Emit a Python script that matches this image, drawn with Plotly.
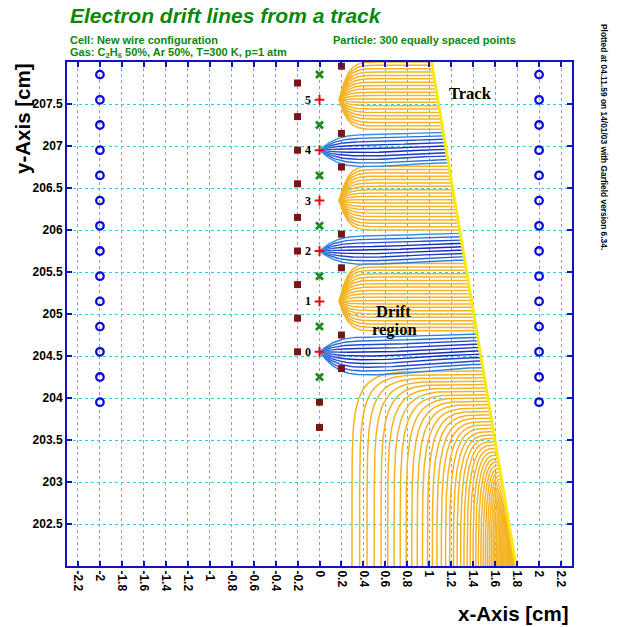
import numpy as np
import plotly.graph_objects as go

# ---------------- cell geometry (cm) ----------------
CATHODE_X = [-2.0, 2.0]
CATHODE_Y = [203.95, 204.25, 204.55, 204.85, 205.15, 205.45, 205.75,
             206.05, 206.35, 206.65, 206.95, 207.25, 207.55, 207.85]

SENSE_X = 0.0
SENSE_Y = [204.55, 205.15, 205.75, 206.35, 206.95, 207.55]
SENSE_LABELS = ["0", "1", "2", "3", "4", "5"]

FIELD_X = 0.0
FIELD_Y = [204.25, 204.85, 205.45, 206.05, 206.65, 207.25, 207.85]

GUARD_L_X = -0.2
GUARD_L_Y = [204.55, 204.95, 205.35, 205.75, 206.15, 206.55, 206.95, 207.35, 207.75]
GUARD_C_X = 0.0
GUARD_C_Y = [203.65, 203.95]
GUARD_R_X = 0.2
GUARD_R_Y = [204.35, 204.75, 205.55, 205.95, 206.75, 207.15, 207.95]

# ---------------- track and drift-line bundles ----------------
TRACK_X = [1.79, 1.02]
TRACK_Y = [202.0, 208.0]
N_VISIBLE_POINTS = 151          # starting points inside the frame (0.04 cm apart)

# track heights separating the bundles: below the first edge the electrons
# leave through the bottom, then sense wires 0,1,2,3,4,5 in turn
BUNDLE_EDGES = [204.34, 204.78, 205.61, 205.97, 206.80, 207.17]
BUNDLE_WIRE = [None, 0, 1, 2, 3, 4, 5]

EXIT_LEFT_X = 0.26              # leftmost exit point at the bottom edge
ORANGE_FOCUS_X = 0.18           # where the odd-wire bundles close up
ORANGE_BEND = 0.45              # length over which they close up
BLUE_SHIFT = [-0.05, 0.0, 0.0]  # bundle offset near the wires 0, 2, 4
BLUE_SPREAD = [1.12, 1.05, 1.05]

X_TICKS = [-2.2, -2.0, -1.8, -1.6, -1.4, -1.2, -1.0, -0.8, -0.6, -0.4, -0.2,
           0.0, 0.2, 0.4, 0.6, 0.8, 1.0, 1.2, 1.4, 1.6, 1.8, 2.0, 2.2]
X_TICK_TEXT = ["-2.2", "-2", "-1.8", "-1.6", "-1.4", "-1.2", "-1", "-0.8", "-0.6",
               "-0.4", "-0.2", "0", "0.2", "0.4", "0.6", "0.8", "1", "1.2", "1.4",
               "1.6", "1.8", "2", "2.2"]
Y_TICKS = [202.5, 203.0, 203.5, 204.0, 204.5, 205.0, 205.5, 206.0, 206.5, 207.0, 207.5]
Y_TICK_TEXT = ["202.5", "203", "203.5", "204", "204.5", "205", "205.5",
               "206", "206.5", "207", "207.5"]

X_RANGE = [-2.3, 2.3]
Y_RANGE = [202.0, 208.0]

ORANGE = "#f5b324"
BLUE_DARK = np.array([20, 32, 190])
BLUE_LIGHT = np.array([62, 172, 236])
N_BLUE = 8
FRAME = "#1212c0"
GREEN_TXT = "#0b870b"


def track_x(y):
    return np.interp(y, TRACK_Y, TRACK_X)


def bottom_line(y0):
    """Electron leaving through the lower edge: left, then down."""
    xs = track_x(y0)
    top = BUNDLE_EDGES[0]
    u = (y0 - Y_RANGE[0]) / (top - Y_RANGE[0])
    reach = (track_x(top) - EXIT_LEFT_X) * u ** 3.2
    n = 2.6 + 5.0 * u ** 4
    phi = np.linspace(0, np.pi / 2, 70)
    x = xs - reach * np.sin(phi) ** (2 / n)
    y = Y_RANGE[0] + (y0 - Y_RANGE[0]) * np.cos(phi) ** (2 / n)
    return x, y


def odd_line(y0, yw):
    xs = track_x(y0)
    xc = ORANGE_FOCUS_X + ORANGE_BEND * np.linspace(0, 1, 60) ** 1.5
    t = (xc - ORANGE_FOCUS_X) / ORANGE_BEND
    yc = yw + (y0 - yw) * (1 - (1 - t) ** 6)
    return np.append(xc, xs), np.append(yc, y0)


def even_line(y0, yw, ycen, spread, shift):
    xs = track_x(y0)
    xk = 0.45
    ym = yw + shift + (y0 - ycen) * spread
    x1 = np.linspace(SENSE_X, xk, 36)
    t = (x1 - SENSE_X) / (xk - SENSE_X)
    y1 = yw + (ym - yw) * (1 - (1 - t) ** 3)
    x2 = np.linspace(xk, xs, 25)[1:]
    s = (x2 - xk) / (xs - xk)
    s = 3 * s ** 2 - 2 * s ** 3
    y2 = ym + (y0 - ym) * s
    return np.concatenate([x1, x2]), np.concatenate([y1, y2])


orange_x, orange_y = [], []
blue_store = [([], []) for _ in range(N_BLUE)]

starts = np.linspace(TRACK_Y[0], TRACK_Y[1], N_VISIBLE_POINTS)
edges_full = [Y_RANGE[0]] + BUNDLE_EDGES + [Y_RANGE[1] + 1.0]

for y0 in starts:
    k = int(np.searchsorted(BUNDLE_EDGES, y0, side="right"))
    wire = BUNDLE_WIRE[k]
    if wire is None:
        if y0 - Y_RANGE[0] < 1e-6:
            continue
        x, y = bottom_line(y0)
        orange_x.extend(list(x) + [None])
        orange_y.extend(list(y) + [None])
    elif wire % 2 == 1:
        x, y = odd_line(y0, SENSE_Y[wire])
        orange_x.extend(list(x) + [None])
        orange_y.extend(list(y) + [None])
    else:
        lo, hi = edges_full[k], edges_full[k + 1]
        ycen = 0.5 * (lo + hi)
        half = 0.5 * (hi - lo)
        j = wire // 2
        x, y = even_line(y0, SENSE_Y[wire], ycen, BLUE_SPREAD[j], BLUE_SHIFT[j])
        u = abs(y0 - ycen) / half
        xm = 0.5 * (x[1:] + x[:-1])
        w = np.maximum(0.85 * u ** 1.5, np.exp(-(xm - SENSE_X) / 0.12))
        w = np.clip(w, 0, 0.999)
        idx = (w * N_BLUE).astype(int)
        a = 0
        for i in range(1, len(idx) + 1):
            if i == len(idx) or idx[i] != idx[a]:
                bx, by = blue_store[idx[a]]
                bx.extend(list(x[a:i + 1]) + [None])
                by.extend(list(y[a:i + 1]) + [None])
                a = i

fig = go.Figure()

fig.add_trace(go.Scatter(x=orange_x, y=orange_y, mode="lines",
                         line=dict(color=ORANGE, width=1.5), hoverinfo="skip"))
for k, (bx, by) in enumerate(blue_store):
    if not bx:
        continue
    f = (k + 0.5) / N_BLUE
    c = (1 - f) * BLUE_DARK + f * BLUE_LIGHT
    col = "rgb(%d,%d,%d)" % tuple(c.astype(int))
    fig.add_trace(go.Scatter(x=bx, y=by, mode="lines",
                             line=dict(color=col, width=1.4), hoverinfo="skip"))

# the track
fig.add_trace(go.Scatter(x=TRACK_X, y=TRACK_Y, mode="lines",
                         line=dict(color="#f6ea12", width=3), hoverinfo="skip"))

# wires
for cx in CATHODE_X:
    fig.add_trace(go.Scatter(x=[cx] * len(CATHODE_Y), y=CATHODE_Y, mode="markers",
                             marker=dict(symbol="circle-open", size=7.5,
                                         color="#0a0ad8", line=dict(width=2.3))))
for gx, gy in [(GUARD_L_X, GUARD_L_Y), (GUARD_C_X, GUARD_C_Y), (GUARD_R_X, GUARD_R_Y)]:
    fig.add_trace(go.Scatter(x=[gx] * len(gy), y=gy, mode="markers",
                             marker=dict(symbol="square", size=7, color="#761616",
                                         line=dict(width=0))))
fig.add_trace(go.Scatter(x=[FIELD_X] * len(FIELD_Y), y=FIELD_Y, mode="markers",
                         marker=dict(symbol="x-thin", size=7,
                                     line=dict(width=2.8, color="#1e8a1e"))))
fig.add_trace(go.Scatter(x=[SENSE_X] * len(SENSE_Y), y=SENSE_Y, mode="markers",
                         marker=dict(symbol="cross-thin", size=7,
                                     line=dict(width=2, color="#e01010"))))

serif = "Liberation Serif, Times New Roman, serif"
sans = "Liberation Sans, Arial, sans-serif"
ann = []
for yw, lab in zip(SENSE_Y, SENSE_LABELS):
    ann.append(dict(x=-0.055, y=yw, xref="x", yref="y", text=lab, showarrow=False,
                    xanchor="right", yanchor="middle",
                    font=dict(family=serif, size=12, color="black", weight="bold")))
ann.append(dict(x=1.375, y=207.63, xref="x", yref="y", text="Track", showarrow=False,
                font=dict(family=serif, size=16.5, color="black", weight="bold")))
ann.append(dict(x=0.67, y=205.03, xref="x", yref="y", text="Drift", showarrow=False,
                font=dict(family=serif, size=16.5, color="black", weight="bold")))
ann.append(dict(x=0.685, y=204.81, xref="x", yref="y", text="region", showarrow=False,
                font=dict(family=serif, size=16.5, color="black", weight="bold")))


def px(xp):
    return (xp - 67) / 505


def py(yp):
    return (566 - yp) / 504


ann += [
    dict(x=px(68), y=py(15), xref="paper", yref="paper", showarrow=False,
         xanchor="left", yanchor="middle", text="<i>Electron drift lines from a track</i>",
         font=dict(family=sans, size=21, color=GREEN_TXT, weight="bold")),
    dict(x=px(68), y=py(40), xref="paper", yref="paper", showarrow=False,
         xanchor="left", yanchor="middle", text="Cell: New wire configuration",
         font=dict(family=sans, size=11, color=GREEN_TXT, weight="bold")),
    dict(x=px(68), y=py(53), xref="paper", yref="paper", showarrow=False,
         xanchor="left", yanchor="middle",
         text="Gas: C<sub>2</sub>H<sub>6</sub> 50%, Ar 50%, T=300 K, p=1 atm",
         font=dict(family=sans, size=11, color=GREEN_TXT, weight="bold")),
    dict(x=px(331), y=py(40), xref="paper", yref="paper", showarrow=False,
         xanchor="left", yanchor="middle", text="Particle: 300 equally spaced points",
         font=dict(family=sans, size=11, color=GREEN_TXT, weight="bold")),
    dict(x=px(604), y=py(137), xref="paper", yref="paper", showarrow=False,
         xanchor="center", yanchor="middle", textangle=90,
         text="Plotted at 04.11.59 on 14/01/03 with Garfield version 6.34.",
         font=dict(family=sans, size=8.4, color="black", weight="bold")),
    dict(x=px(571), y=py(613), xref="paper", yref="paper", showarrow=False,
         xanchor="right", yanchor="middle", text="x-Axis [cm]",
         font=dict(family=sans, size=20.5, color="black", weight="bold")),
    dict(x=px(22), y=py(119), xref="paper", yref="paper", showarrow=False,
         xanchor="center", yanchor="middle", textangle=-90, text="y-Axis [cm]",
         font=dict(family=sans, size=20.5, color="black", weight="bold")),
]

axis_common = dict(showline=True, linecolor=FRAME, linewidth=2, mirror="ticks",
                   ticks="inside", ticklen=5, tickwidth=2, tickcolor=FRAME,
                   showgrid=True, gridcolor="#3cc6da", gridwidth=1, griddash="dot",
                   zeroline=False,
                   tickfont=dict(family=sans, size=12, color="black", weight="bold"))

fig.update_layout(
    width=618, height=627,
    margin=dict(l=67, r=46, t=62, b=61),
    paper_bgcolor="white", plot_bgcolor="white",
    showlegend=False,
    annotations=ann,
    xaxis=dict(range=X_RANGE, tickvals=X_TICKS, ticktext=X_TICK_TEXT,
               tickangle=90, **axis_common),
    yaxis=dict(range=Y_RANGE, tickvals=Y_TICKS, ticktext=Y_TICK_TEXT,
               **axis_common),
)

fig.write_html("out.html")
